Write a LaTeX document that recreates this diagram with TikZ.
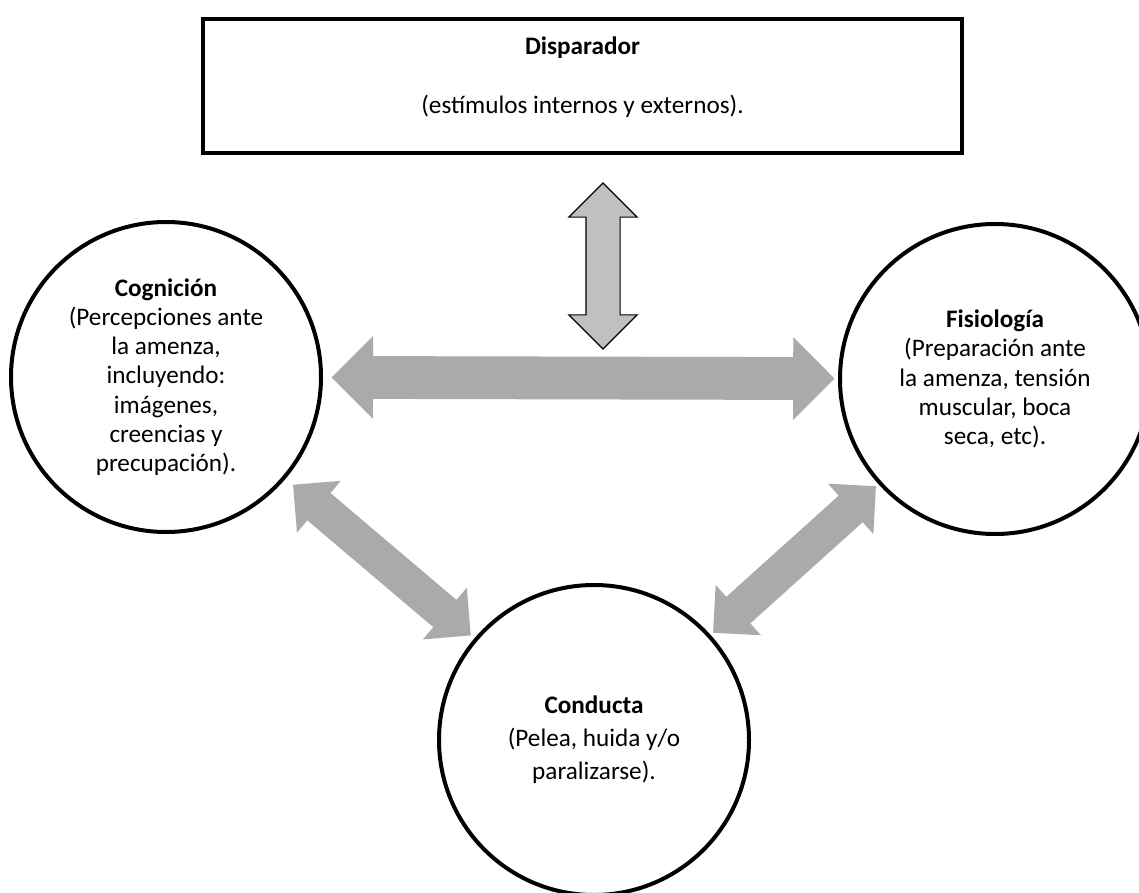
\documentclass[tikz,border=0pt]{standalone}
\usepackage{fontspec}
\setmainfont{Carlito}
\usetikzlibrary{shapes.arrows}

\definecolor{arrowgray}{HTML}{AAAAAA}
\definecolor{triggray}{HTML}{C0C0C0}
\newcommand{\txtfont}{\fontsize{12.6}{14.6}\selectfont}

\tikzset{
  stage/.style={circle, draw, line width=2pt, minimum size=155pt, inner sep=0pt, align=center, font=\txtfont},
  trigger/.style={rectangle, draw, line width=2pt, minimum width=379.5pt, minimum height=67pt, inner sep=0pt},
  fatarrow/.style={double arrow, fill=arrowgray, text height=0pt, text depth=0pt, inner xsep=0pt, inner ysep=8.75pt, double arrow head extend=8pt}
}

\begin{document}
\begin{tikzpicture}[x=0.5pt, y=-0.5pt]
\useasboundingbox (0,0) rectangle (1139,893);

% trigger box
\node[trigger] (trig) at (582.5,86) {};
\node[font=\txtfont\bfseries] (trigtitle) at (582.5,48) {Disparador};
\node[font=\txtfont] (trigtext) at (582.5,106) {(estímulos internos y externos).};

% circles
\node[stage] (cog) at (166,377) {\textbf{Cognición}\\(Percepciones ante\\la amenza,\\incluyendo:\\imágenes,\\creencias y\\precupación).};
\node[stage] (fis) at (995,379) {\textbf{Fisiología}\\(Preparación ante\\la amenza, tensión\\muscular, boca\\seca, etc).};
\node[stage, font=\fontsize{12.6}{16.5}\selectfont] (cond) at (594,740) {\textbf{Conducta}\\(Pelea, huida y/o\\paralizarse).};

% arrows between circles
\path (cog) -- (fis) node[fatarrow, pos=.505, sloped, minimum height=251.5pt, inner ysep=10.5pt, double arrow head extend=10pt] (cogfis) {};
\path (cog) -- (cond) node[fatarrow, pos=.51, sloped, minimum height=116.5pt] (cogcond) {};
\path (cond) -- (fis) node[fatarrow, pos=.5, sloped, minimum height=109.5pt] (condfis) {};

% trigger arrow
\node[fatarrow, draw, fill=triggray, line width=0.6pt, rotate=90, minimum height=83pt, inner ysep=8.25pt, double arrow head extend=8.5pt] (trigarrow) at (603,266) {};
\end{tikzpicture}
\end{document}
